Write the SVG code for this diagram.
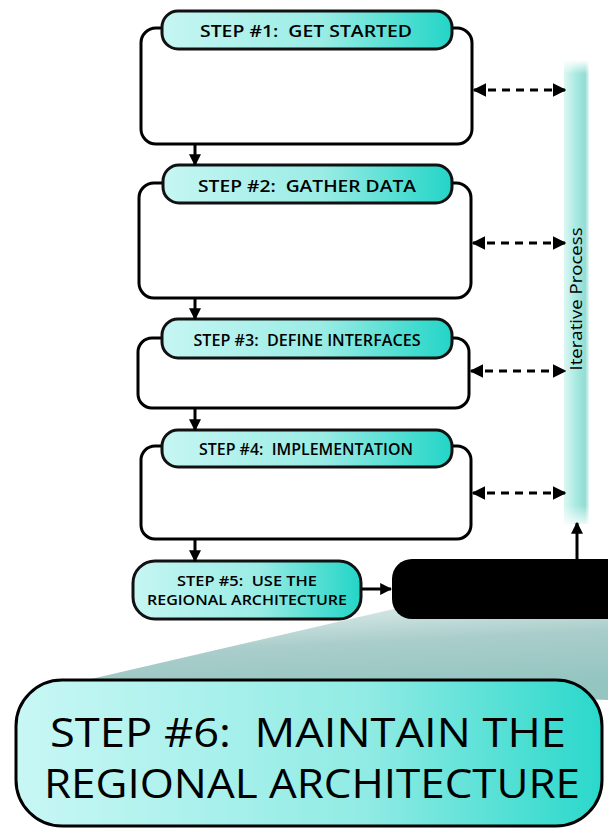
<svg xmlns="http://www.w3.org/2000/svg" width="608" height="829" viewBox="0 0 608 829">
<defs>
<linearGradient id="pill" x1="0" y1="0" x2="1" y2="0">
<stop offset="0" stop-color="#c6f6f3"/>
<stop offset="0.55" stop-color="#9aece5"/>
<stop offset="1" stop-color="#22d5c7"/>
</linearGradient>
<linearGradient id="big" x1="0" y1="0" x2="1" y2="0">
<stop offset="0" stop-color="#c8f7f5"/>
<stop offset="0.6" stop-color="#90ebe4"/>
<stop offset="1" stop-color="#2ad8cb"/>
</linearGradient>
<linearGradient id="bar" x1="0" y1="0" x2="1" y2="0">
<stop offset="0" stop-color="#dcf7f3"/>
<stop offset="0.5" stop-color="#a6e9e0"/>
<stop offset="0.85" stop-color="#94dcd3"/>
<stop offset="1" stop-color="#e6f8f6"/>
</linearGradient>
<linearGradient id="barfade" x1="0" y1="0" x2="0" y2="1">
<stop offset="0" stop-color="#fff" stop-opacity="1"/>
<stop offset="0.03" stop-color="#fff" stop-opacity="0"/>
<stop offset="0.96" stop-color="#fff" stop-opacity="0"/>
<stop offset="1" stop-color="#fff" stop-opacity="0.8"/>
</linearGradient>
<linearGradient id="proj" x1="0" y1="0" x2="0.3" y2="1">
<stop offset="0" stop-color="#e8f3f2"/>
<stop offset="0.5" stop-color="#a9cdca"/>
<stop offset="1" stop-color="#94c5c1"/>
</linearGradient>
<marker id="ah" viewBox="0 0 10 10" refX="9" refY="5" markerWidth="4" markerHeight="4" orient="auto-start-reverse" markerUnits="strokeWidth">
<path d="M0,0 L10,5 L0,10 z" fill="#000"/>
</marker>
<marker id="ahd" viewBox="0 0 10 10" refX="9" refY="5" markerWidth="4.5" markerHeight="4.5" orient="auto-start-reverse" markerUnits="strokeWidth">
<path d="M0,0 L10,5 L0,10 z" fill="#000"/>
</marker>
</defs>
<style>
text{white-space:pre}
.outer{fill:#fff;stroke:#000;stroke-width:3}
.pill{fill:url(#pill);stroke:#111;stroke-width:3}
.hdr{font-family:"Open Sans","DejaVu Sans",sans-serif;font-size:17px;font-weight:600;fill:#000;text-anchor:middle}
.s5{font-family:"Open Sans","DejaVu Sans",sans-serif;font-size:15px;font-weight:600;fill:#000;text-anchor:middle}
.big{font-family:"Open Sans","DejaVu Sans",sans-serif;font-size:40px;fill:#000;text-anchor:middle}
.conn{stroke:#000;stroke-width:3;fill:none}
.dash{stroke:#000;stroke-width:3;fill:none;stroke-dasharray:8 6}
</style>
<rect width="608" height="829" fill="#fff"/>

<g id="projection">
<polygon points="398,608 608,608 608,700 78,682" fill="url(#proj)"/>
</g>

<g id="iterative">
<rect x="564" y="60" width="25" height="464" fill="url(#bar)"/>
<rect x="564" y="60" width="25" height="464" fill="url(#barfade)"/>
<text x="582" y="299" transform="rotate(-90 582 299)" font-family="Open Sans, DejaVu Sans, sans-serif" font-size="16" font-weight="500" text-anchor="middle" textLength="143" lengthAdjust="spacingAndGlyphs">Iterative Process</text>
</g>

<g id="step1">
<rect class="outer" x="141" y="28" width="331" height="116" rx="15"/>
<rect class="pill" x="162" y="11" width="290" height="38" rx="16"/>
<text class="hdr" x="306" y="37" textLength="212" lengthAdjust="spacingAndGlyphs">STEP #1:  GET STARTED</text>
</g>

<g id="step2">
<rect class="outer" x="139" y="183" width="332" height="115" rx="15"/>
<rect class="pill" x="163" y="165" width="289" height="38" rx="16"/>
<text class="hdr" x="307" y="192" textLength="218" lengthAdjust="spacingAndGlyphs">STEP #2:  GATHER DATA</text>
</g>

<g id="step3">
<rect class="outer" x="138" y="338" width="331" height="70" rx="14"/>
<rect class="pill" x="162" y="319" width="290" height="39" rx="16"/>
<text class="hdr" x="307" y="346" textLength="227" lengthAdjust="spacingAndGlyphs">STEP #3:  DEFINE INTERFACES</text>
</g>

<g id="step4">
<rect class="outer" x="141" y="446" width="330" height="93" rx="14"/>
<rect class="pill" x="162" y="430" width="290" height="37" rx="16"/>
<text class="hdr" x="306" y="455" textLength="214" lengthAdjust="spacingAndGlyphs">STEP #4:  IMPLEMENTATION</text>
</g>

<g id="step5">
<rect class="pill" x="133" y="561" width="228" height="58" rx="22"/>
<text class="s5" x="247" y="586" textLength="140" lengthAdjust="spacingAndGlyphs">STEP #5:  USE THE</text>
<text class="s5" x="247" y="605" textLength="200" lengthAdjust="spacingAndGlyphs">REGIONAL ARCHITECTURE</text>
</g>

<g id="blackbox">
<rect x="392" y="559" width="240" height="60" rx="20" fill="#000"/>
</g>

<g id="step6">
<rect x="16" y="680" width="586" height="146" rx="46" fill="url(#big)" stroke="#000" stroke-width="3"/>
<text class="big" x="308" y="747" textLength="516" lengthAdjust="spacingAndGlyphs">STEP #6:  MAINTAIN THE</text>
<text class="big" x="312" y="798" textLength="536" lengthAdjust="spacingAndGlyphs">REGIONAL ARCHITECTURE</text>
</g>

<g id="connectors">
<line class="conn" x1="195" y1="144" x2="195" y2="165" marker-end="url(#ah)"/>
<line class="conn" x1="195" y1="298" x2="195" y2="319" marker-end="url(#ah)"/>
<line class="conn" x1="195" y1="408" x2="195" y2="430" marker-end="url(#ah)"/>
<line class="conn" x1="195" y1="539" x2="195" y2="561" marker-end="url(#ah)"/>
<line class="conn" x1="362" y1="589" x2="391" y2="589" marker-end="url(#ah)"/>
<line class="conn" x1="577" y1="559" x2="577" y2="523" marker-end="url(#ah)"/>
<line class="dash" x1="474" y1="90" x2="565" y2="90" marker-start="url(#ahd)" marker-end="url(#ahd)"/>
<line class="dash" x1="473" y1="243" x2="565" y2="243" marker-start="url(#ahd)" marker-end="url(#ahd)"/>
<line class="dash" x1="471" y1="371" x2="565" y2="371" marker-start="url(#ahd)" marker-end="url(#ahd)"/>
<line class="dash" x1="473" y1="493" x2="565" y2="493" marker-start="url(#ahd)" marker-end="url(#ahd)"/>
</g>
</svg>
